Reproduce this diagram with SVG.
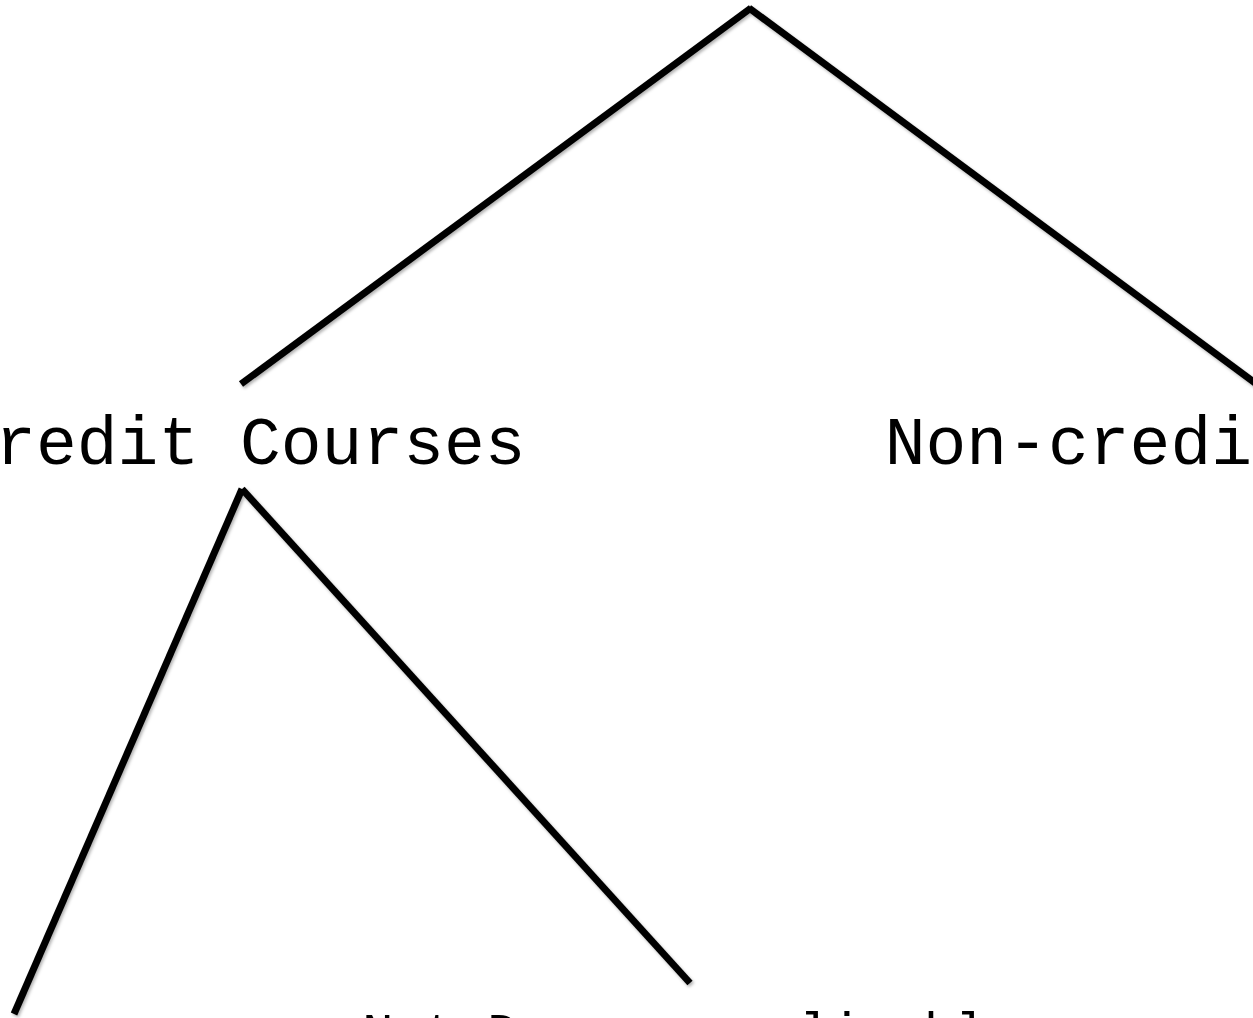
<svg xmlns="http://www.w3.org/2000/svg" width="1253" height="1018" viewBox="0 0 1253 1018">
  <style>
    .label { font-family: "Liberation Mono", "Courier New", monospace; fill: #000; text-anchor: middle; }
    .big { font-size: 68px; }
    .small { font-size: 52px; }
    .edge { stroke: #000; stroke-width: 7; stroke-linecap: butt; fill: none; }
  </style>
  <defs>
    <filter id="soft-shadow" x="-5%" y="-5%" width="110%" height="110%">
      <feDropShadow dx="1.5" dy="2" stdDeviation="1.5" flood-color="#000" flood-opacity="0.3"/>
    </filter>
  </defs>
  <rect width="1253" height="1018" fill="#fff"/>

  <!-- tree branches -->
  <g id="connectors" filter="url(#soft-shadow)">
    <line class="edge" x1="751" y1="8" x2="241" y2="384"/>
    <line class="edge" x1="749" y1="8" x2="1262" y2="388"/>
    <line class="edge" x1="242" y1="489" x2="14" y2="1014"/>
    <line class="edge" x1="242" y1="489" x2="690" y2="983"/>
  </g>

  <g id="node-credit">
    <text class="label big" x="240" y="464">Credit Courses</text>
  </g>
  <g id="node-noncredit">
    <text class="label big" x="1252" y="464">Non-credit Courses</text>
  </g>
  <g id="node-not-degree-applicable">
    <text class="label small" x="690" y="1049">Not Degree-applicable</text>
  </g>
</svg>
